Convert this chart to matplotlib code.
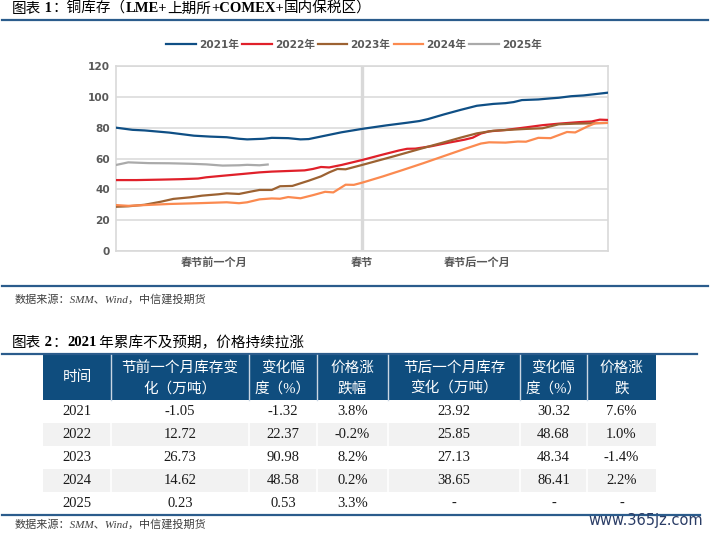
import matplotlib.pyplot as plt
from matplotlib.patches import Rectangle

plt.rcParams['font.family'] = ['DejaVu Sans', 'Noto Sans CJK SC']

CJK = 'Noto Sans CJK SC'
SERIF = 'Liberation Serif'

# ── Chart 1 data: copper stocks (万吨), x = day index, 春节 at 60 ───────────
X_2021 = [0, 4, 7, 13, 19, 23, 27, 30, 32, 36, 38, 42, 45, 47, 51, 55, 60, 66, 71, 74,
          76, 80, 84, 88, 92, 95, 97, 99, 103, 106, 108, 111, 114, 116, 120]
Y_2021 = [80.0, 78.6, 78.2, 76.8, 74.8, 74.2, 73.8, 72.8, 72.4, 72.8, 73.4, 73.2, 72.4, 72.6,
          74.8, 77.0, 79.2, 81.5, 83.2, 84.3, 85.5, 88.6, 91.5, 94.2, 95.4, 95.9, 96.6, 97.9,
          98.3, 99.0, 99.4, 100.4, 100.9, 101.5, 102.7]

X_2022 = [0, 5, 11, 16, 20, 22, 26, 31, 35, 38, 42, 46, 48, 50, 52, 55, 60, 65, 69, 71,
          73, 77, 81, 85, 87, 89, 91, 95, 100, 104, 108, 113, 116, 118, 120]
Y_2022 = [46.0, 46.0, 46.3, 46.6, 47.0, 47.8, 48.8, 50.0, 51.0, 51.5, 51.9, 52.3, 53.2, 54.5,
          54.2, 55.8, 59.0, 62.5, 65.2, 66.3, 66.4, 68.0, 70.2, 72.2, 73.5, 76.2, 77.6, 78.5,
          80.2, 81.6, 82.6, 83.6, 84.0, 85.2, 85.0]

X_2023 = [0, 3, 7, 11, 14, 18, 21, 25, 27, 30, 33, 35, 38, 40, 43, 47, 50, 52, 54, 56,
          60, 64, 68, 72, 76, 80, 84, 88, 92, 96, 100, 104, 108, 112, 116, 120]
Y_2023 = [28.7, 29.0, 30.0, 32.0, 33.8, 34.8, 35.9, 36.8, 37.4, 37.0, 38.6, 39.6, 39.6, 42.0,
          42.2, 45.6, 48.4, 51.0, 53.2, 53.0, 55.8, 58.7, 61.6, 64.6, 67.6, 70.5, 73.5, 76.3,
          78.0, 78.6, 79.2, 79.6, 82.2, 82.6, 82.8, 83.1]

X_2024 = [0, 3, 8, 13, 20, 27, 30, 32, 35, 38, 40, 42, 45, 48, 51, 53, 56, 58, 60, 65,
          70, 75, 80, 85, 89, 91, 95, 98, 100, 103, 106, 110, 112, 115, 117, 120]
Y_2024 = [29.8, 29.3, 29.9, 30.5, 31.0, 31.6, 31.0, 31.6, 33.5, 34.1, 33.9, 35.0, 34.2, 36.2,
          38.4, 38.0, 43.0, 42.9, 44.3, 48.3, 52.6, 57.0, 61.6, 66.2, 69.7, 70.5, 70.3, 71.0,
          70.9, 73.4, 73.2, 77.2, 76.9, 80.8, 83.0, 83.1]

X_2025 = [0, 3, 8, 13, 18, 22, 26, 30, 32, 35, 37]
Y_2025 = [55.8, 57.5, 57.0, 56.9, 56.6, 56.2, 55.4, 55.6, 55.9, 55.6, 56.1]

SERIES = [('2021年', X_2021, Y_2021, '#0f4f85'),
          ('2022年', X_2022, Y_2022, '#e0202a'),
          ('2023年', X_2023, Y_2023, '#9c6232'),
          ('2024年', X_2024, Y_2024, '#fb8a50'),
          ('2025年', X_2025, Y_2025, '#aaaaaa')]

FESTIVAL = 60
TICK_POS = [24, 60, 88]
TICK_LABELS = ['春节前一个月', '春节', '春节后一个月']

# ── Table data ──────────────────────────────────────────────────────────────
HEADERS = ['时间', '节前一个月库存变\n化（万吨）', '变化幅\n度（%）', '价格涨\n跌幅',
           '节后一个月库存\n变化（万吨）', '变化幅\n度（%）', '价格涨\n跌']
YEARS = ['2021', '2022', '2023', '2024', '2025']
PRE_CHANGE = ['-1.05', '12.72', '26.73', '14.62', '0.23']
PRE_PCT = ['-1.32', '22.37', '90.98', '48.58', '0.53']
PRE_PRICE = ['3.8%', '-0.2%', '8.2%', '0.2%', '3.3%']
POST_CHANGE = ['23.92', '25.85', '27.13', '38.65', '-']
POST_PCT = ['30.32', '48.68', '48.34', '86.41', '-']
POST_PRICE = ['7.6%', '1.0%', '-1.4%', '2.2%', '-']

BLUE = '#2b5c8c'
HEAD = '#0f4d7e'
GREY_TXT = '#595959'

fig = plt.figure(figsize=(7.11, 5.35), dpi=100)

# overlay in pixel units for titles / table
ov = fig.add_axes([0, 0, 1, 1])
ov.set_xlim(0, 711)
ov.set_ylim(535, 0)
ov.axis('off')


def rich_text(x, y, parts, size=10.5):
    r = fig.canvas.get_renderer()
    for s, fam, w in parts:
        t = ov.text(x, y, s, fontsize=size, family=fam, weight=w, ha='left', va='center', color='black')
        x += t.get_window_extent(renderer=r).width


rich_text(12, 9, [('图表', CJK, 'normal'), (' 1', SERIF, 'bold'), ('：铜库存（', CJK, 'normal'),
                  ('LME+', SERIF, 'bold'), ('上期所', CJK, 'normal'), ('+COMEX+', SERIF, 'bold'),
                  ('国内保税区）', CJK, 'normal')])
ov.plot([2, 708], [20, 20], color=BLUE, lw=1.6)
ov.plot([2, 708], [286, 286], color=BLUE, lw=1.6)
ov.text(15, 299, '数据来源：SMM、Wind，中信建投期货', fontsize=8, style='italic',
        family=[SERIF, CJK], color='#404040', va='center')

rich_text(12, 343, [('图表', CJK, 'normal'), (' 2', SERIF, 'bold'), ('：', CJK, 'normal'),
                    ('2021', SERIF, 'bold'), (' 年累库不及预期，价格持续拉涨', CJK, 'normal')])
ov.plot([2, 697], [354, 354], color=BLUE, lw=1.6)

# ── Chart 1 ────────────────────────────────────────────────────────────────
ax = fig.add_axes([116 / 711, 1 - 251 / 535, 492 / 711, 185 / 535])
ax.patch.set_alpha(0)
ax.axvline(FESTIVAL, color='#d9d9d9', lw=2.4, zorder=1)
for label, xs, ys, c in SERIES:
    ax.plot(xs, ys, color=c, lw=1.6, label=label, zorder=3)
ax.set_xlim(0, 120)
ax.set_ylim(0, 120)
ax.set_yticks(range(0, 121, 20))
ax.set_xticks(TICK_POS, TICK_LABELS)
ax.grid(axis='y', color='#d9d9d9', lw=1.1)
ax.set_axisbelow(True)
for s in ax.spines.values():
    s.set_color('#d9d9d9')
    s.set_linewidth(1.2)
ax.tick_params(length=0, labelcolor=GREY_TXT)
ax.tick_params(axis='y', pad=4.5, labelsize=7.6)
ax.tick_params(axis='x', pad=3.5, labelsize=8)
for lbl in ax.get_yticklabels():
    lbl.set_fontweight('bold')
for lbl in ax.get_xticklabels():
    lbl.set_fontweight('bold')
    lbl.set_family(CJK)

ax.legend(loc='center', bbox_to_anchor=(354 / 711, 1 - 45 / 535), bbox_transform=fig.transFigure,
          ncol=5, frameon=False, handlelength=2.8, handletextpad=0.3, columnspacing=0.3,
          prop={'size': 7.6, 'weight': 'bold'}, labelcolor=GREY_TXT)

# ── Table ──────────────────────────────────────────────────────────────────
COL_EDGES = [43, 111, 249, 317, 388, 520, 587, 656]
HEAD_TOP, HEAD_BOT, ROW_H = 355, 400, 23

ov.add_patch(Rectangle((COL_EDGES[0], HEAD_TOP), COL_EDGES[-1] - COL_EDGES[0], HEAD_BOT - HEAD_TOP,
                       color=HEAD, lw=0))
for e in COL_EDGES[1:-1]:
    ov.plot([e, e], [HEAD_TOP, HEAD_BOT], color='#c9d6e3', lw=1)

for i, h in enumerate(HEADERS):
    cx = (COL_EDGES[i] + COL_EDGES[i + 1]) / 2
    lines = h.split('\n')
    if len(lines) == 1:
        ys = [(HEAD_TOP + HEAD_BOT) / 2]
    else:
        ys = [368, 389]
    for ln, yy in zip(lines, ys):
        ov.text(cx, yy, ln, fontsize=10.5, family=[SERIF, CJK], color='white', ha='center', va='center')

columns = [YEARS, PRE_CHANGE, PRE_PCT, PRE_PRICE, POST_CHANGE, POST_PCT, POST_PRICE]
for r in range(len(YEARS)):
    top = HEAD_BOT + r * ROW_H
    if r % 2 == 1:
        ov.add_patch(Rectangle((COL_EDGES[0], top), COL_EDGES[-1] - COL_EDGES[0], ROW_H,
                               color='#f2f2f2', lw=0))
        for e in COL_EDGES[1:-1]:
            ov.plot([e, e], [top, top + ROW_H], color='white', lw=1.2)
    for c, col in enumerate(columns):
        cx = (COL_EDGES[c] + COL_EDGES[c + 1]) / 2
        ov.text(cx, top + ROW_H / 2, col[r], fontsize=10.5, family=SERIF, color='#1a1a1a',
                ha='center', va='center')

ov.plot([2, 700], [515, 515], color=BLUE, lw=1.6)
ov.text(15, 524, '数据来源：SMM、Wind，中信建投期货', fontsize=8, style='italic',
        family=[SERIF, CJK], color='#404040', va='center')
ov.text(588, 521, 'www.365jz.com', fontsize=10.5, color='#2b3d66', va='center')

fig.savefig('out.png', dpi=100)
